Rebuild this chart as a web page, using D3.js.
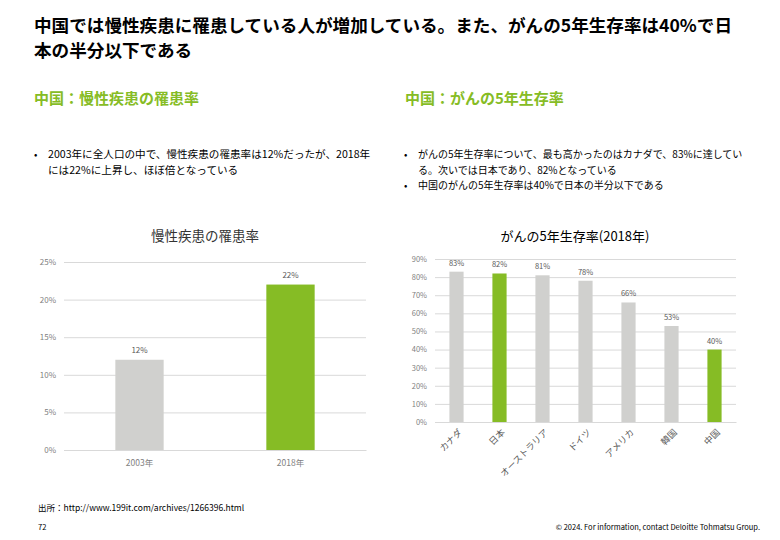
<!DOCTYPE html>
<html><head><meta charset="utf-8">
<script src="https://cdn.jsdelivr.net/npm/d3@7"></script>
<style>body{margin:0;background:#fff}svg{display:block}text{font-family:"Noto Sans CJK JP","Noto Sans",sans-serif}</style>
</head><body><svg id="c" width="780" height="540"></svg>
<script>
const leftCategories = ["2003年", "2018年"];
const leftValues = [12, 22];
const leftTicks = [0, 5, 10, 15, 20, 25];
const rightCategories = ["カナダ", "日本", "オーストラリア", "ドイツ", "アメリカ", "韓国", "中国"];
const rightValues = [83, 82, 81, 78, 66, 53, 40];
const rightTicks = [0, 10, 20, 30, 40, 50, 60, 70, 80, 90];
const rightHighlight = ["日本", "中国"];
const leftHighlight = ["2018年"];

const GREEN = "#86bc25", GRAY = "#d0d0ce", GRID = "#d9d9d9", TXT = "#7f7f7f";
const svg = d3.select("#c");

// Header
const title = svg.append("text").attr("x", 34).attr("font-size", 17.6).attr("font-weight", "bold").attr("fill", "#000");
title.append("tspan").attr("x", 34).attr("y", 32).text("中国では慢性疾患に罹患している人が増加している。また、がんの5年生存率は40%で日");
title.append("tspan").attr("x", 34).attr("y", 57).text("本の半分以下である");

svg.append("text").attr("x", 34).attr("y", 104).attr("font-size", 15).attr("font-weight", "bold").attr("fill", GREEN).text("中国：慢性疾患の罹患率");
svg.append("text").attr("x", 405).attr("y", 104).attr("font-size", 15).attr("font-weight", "bold").attr("fill", GREEN).text("中国：がんの5年生存率");

function bullet(x, y, lines, fs) {
  svg.append("text").attr("x", x).attr("y", y).attr("font-size", 10).attr("fill", "#000").text("•");
  const t = svg.append("text").attr("font-size", fs).attr("fill", "#000");
  lines.forEach((l, i) => t.append("tspan").attr("x", x + 14).attr("y", y + i * 15.5).text(l));
}
bullet(34, 158, ["2003年に全人口の中で、慢性疾患の罹患率は12%だったが、2018年", "には22%に上昇し、ほぼ倍となっている"], 10.6);
bullet(404, 158, ["がんの5年生存率について、最も高かったのはカナダで、83%に達してい", "る。次いでは日本であり、82%となっている"], 10);
bullet(404, 188.5, ["中国のがんの5年生存率は40%で日本の半分以下である"], 10);

// Left chart
{
  const x = d3.scaleBand().domain(leftCategories).range([64, 366]).paddingInner(0.68).paddingOuter(0.34);
  const y = d3.scaleLinear().domain([0, 25]).range([450, 262]);
  const g = svg.append("g");
  g.append("text").attr("x", 205).attr("y", 241).attr("text-anchor", "middle").attr("font-size", 13.5).attr("fill", "#333").text("慢性疾患の罹患率");
  const ax = g.append("g").attr("transform", "translate(64,0)").call(d3.axisLeft(y).tickValues(leftTicks).tickFormat(d => d + "%").tickSize(-302).tickPadding(8));
  ax.select(".domain").remove();
  ax.selectAll(".tick line").attr("stroke", GRID);
  ax.selectAll(".tick text").attr("fill", TXT).attr("font-size", 8);
  g.selectAll("rect").data(leftValues).join("rect")
    .attr("x", (d, i) => x(leftCategories[i])).attr("width", x.bandwidth())
    .attr("y", d => y(d)).attr("height", d => y(0) - y(d))
    .attr("fill", (d, i) => leftHighlight.includes(leftCategories[i]) ? GREEN : GRAY);
  g.selectAll(".lbl").data(leftValues).join("text").attr("class", "lbl")
    .attr("x", (d, i) => x(leftCategories[i]) + x.bandwidth() / 2).attr("y", d => y(d) - 7)
    .attr("text-anchor", "middle").attr("font-size", 8).attr("fill", "#595959").text(d => d + "%");
  const xa = g.append("g").attr("transform", "translate(0,450)").call(d3.axisBottom(x).tickSize(0).tickPadding(10));
  xa.select(".domain").attr("stroke", GRID);
  xa.selectAll(".tick text").attr("fill", TXT).attr("font-size", 8.5);
}

// Right chart
{
  const x = d3.scaleBand().domain(rightCategories).range([435, 736]).paddingInner(0.67).paddingOuter(0.335);
  const y = d3.scaleLinear().domain([0, 90]).range([422, 259]);
  const g = svg.append("g");
  g.append("text").attr("x", 575).attr("y", 241).attr("text-anchor", "middle").attr("font-size", 13).attr("fill", "#000").text("がんの5年生存率(2018年)");
  const ax = g.append("g").attr("transform", "translate(435,0)").call(d3.axisLeft(y).tickValues(rightTicks).tickFormat(d => d + "%").tickSize(-301).tickPadding(8));
  ax.select(".domain").remove();
  ax.selectAll(".tick line").attr("stroke", GRID);
  ax.selectAll(".tick text").attr("fill", TXT).attr("font-size", 7.5);
  g.selectAll("rect").data(rightValues).join("rect")
    .attr("x", (d, i) => x(rightCategories[i])).attr("width", x.bandwidth())
    .attr("y", d => y(d)).attr("height", d => y(0) - y(d))
    .attr("fill", (d, i) => rightHighlight.includes(rightCategories[i]) ? GREEN : GRAY);
  g.selectAll(".lbl").data(rightValues).join("text").attr("class", "lbl")
    .attr("x", (d, i) => x(rightCategories[i]) + x.bandwidth() / 2).attr("y", d => y(d) - 6)
    .attr("text-anchor", "middle").attr("font-size", 7.5).attr("fill", "#595959").text(d => d + "%");
  const xa = g.append("g").attr("transform", "translate(0,422)").call(d3.axisBottom(x).tickSize(0).tickPadding(0));
  xa.select(".domain").attr("stroke", GRID);
  xa.selectAll(".tick text").attr("fill", "#595959").attr("font-size", 9)
    .attr("text-anchor", "end").attr("dy", 0).attr("transform", "translate(6,11) rotate(-45)");
}

// Footer
svg.append("text").attr("x", 38).attr("y", 511).attr("font-size", 8.5).attr("fill", "#000").text("出所：http://www.199it.com/archives/1266396.html");
svg.append("text").attr("x", 38).attr("y", 530).attr("font-size", 7.5).attr("fill", "#000").text("72");
svg.append("text").attr("x", 760).attr("y", 530).attr("text-anchor", "end").attr("font-size", 7.5).attr("fill", "#000").text("© 2024. For information, contact Deloitte Tohmatsu Group.");
</script></body></html>
